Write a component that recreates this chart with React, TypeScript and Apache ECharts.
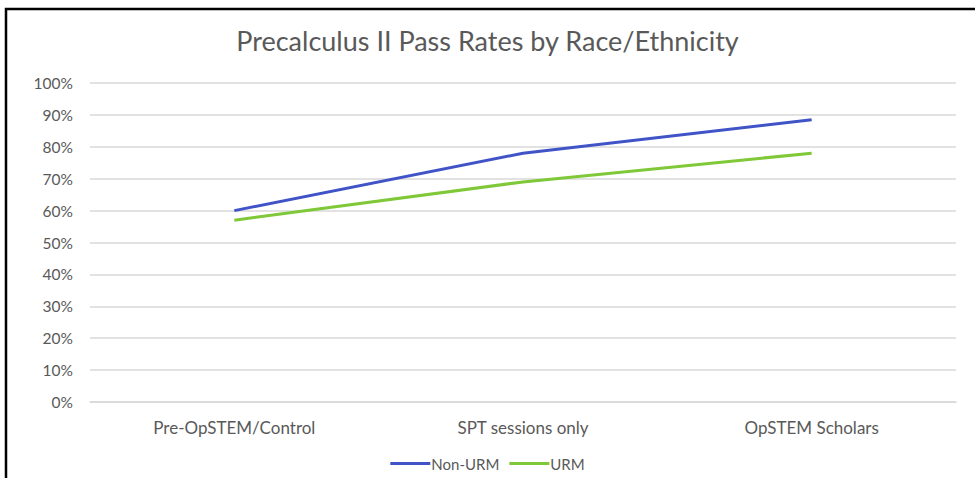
import React, { useEffect, useRef } from "react";
import * as echarts from "echarts";

const categories = ["Pre-OpSTEM/Control", "SPT sessions only", "OpSTEM Scholars"];
const nonUrm = [60, 78, 88.5];
const urm = [57, 69, 78];
const titleText = "Precalculus II Pass Rates by Race/Ethnicity";

export default function App() {
  const ref = useRef<HTMLDivElement>(null);
  useEffect(() => {
    if (!ref.current) return;
    const chart = echarts.init(ref.current, null, { renderer: "svg" });
    const font = "Lato, 'Open Sans', sans-serif";
    chart.setOption({
      animation: false,
      backgroundColor: "#ffffff",
      textStyle: { fontFamily: font },
      title: {
        text: titleText,
        left: "center",
        top: 22,
        textStyle: { fontSize: 27, fontWeight: "normal", color: "#595959", fontFamily: font },
      },
      graphic: [
        {
          type: "rect",
          shape: { x: 6, y: 9, width: 1200, height: 1200 },
          style: { fill: "none", stroke: "#000000", lineWidth: 2.5 },
          silent: true,
        },
      ],
      legend: {
        bottom: 2,
        left: "center",
        icon: "rect",
        itemWidth: 40,
        itemHeight: 3,
        itemGap: 10,
        textStyle: { fontSize: 15, color: "#595959", fontFamily: font, padding: [0, 0, 0, -4] },
        data: ["Non-URM", "URM"],
      },
      grid: { left: 90, right: 19, top: 83, bottom: 76, containLabel: false },
      xAxis: {
        type: "category",
        data: categories,
        boundaryGap: true,
        axisLine: { show: true, lineStyle: { color: "#d9d9d9", width: 1.5 } },
        axisTick: { show: false },
        axisLabel: { fontSize: 17, color: "#595959", margin: 17, fontFamily: font },
      },
      yAxis: {
        type: "value",
        min: 0,
        max: 100,
        interval: 10,
        axisLine: { show: false },
        axisTick: { show: false },
        splitLine: { lineStyle: { color: "#d9d9d9", width: 1.5 } },
        axisLabel: { formatter: "{value}%", fontSize: 15.5, color: "#595959", margin: 17, fontFamily: font },
      },
      series: [
        {
          name: "Non-URM",
          type: "line",
          data: nonUrm,
          symbol: "none",
          lineStyle: { color: "#4054C8", width: 3 },
          itemStyle: { color: "#4054C8" },
        },
        {
          name: "URM",
          type: "line",
          data: urm,
          symbol: "none",
          lineStyle: { color: "#7FC837", width: 3 },
          itemStyle: { color: "#7FC837" },
        },
      ],
    });
    return () => chart.dispose();
  }, []);
  return (
    <div
      ref={ref}
      style={{ position: "absolute", left: 0, top: 0, width: 975, height: 478 }}
    />
  );
}
